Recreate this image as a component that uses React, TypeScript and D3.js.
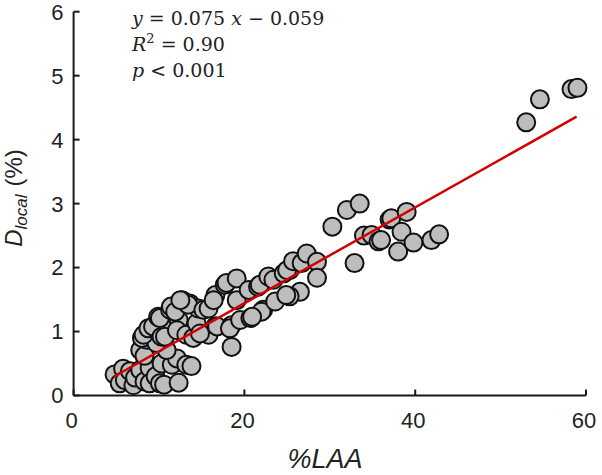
import React from "react";
import * as d3 from "d3";

const laa: number[] = [
  4.8, 5.4, 5.8, 6.0, 6.6, 7.0, 7.2, 7.8, 8.3, 8.9, 8.9, 9.6, 10.1, 10.3, 10.6, 11.5, 12.1, 12.3, 13.2, 13.8, 10.9, 7.8, 8.3,
  8.6, 8.0, 9.7, 8.2, 8.75, 9.3, 10.3, 11.1, 9.9, 10.7, 10.1, 11.3, 11.4, 12.3, 12.7, 13.6, 11.9, 12.1, 13.2, 14.0, 14.4, 14.6, 13.4,
  12.5, 15.2, 15.8, 16.6, 16.4, 16.6, 15.8, 14.8, 16.8, 17.7, 17.9, 19.1, 19.1, 18.5, 18.3, 19.5, 20.7, 18.5, 20.5, 21.6, 21.8,
  22.8, 23.4, 22.2, 22.0, 20.9, 23.6, 24.6, 25.3, 25.0, 25.7, 26.7, 27.3, 28.5, 28.5, 26.5, 25.3, 24.9,
  30.3, 32.0, 33.5, 32.9, 34.0, 34.9, 35.7, 36.0, 37.0, 37.2, 38.4, 39.0, 38.0, 39.8, 41.9, 42.8, 53.0, 54.6, 58.3, 59.0,
];
const dlocal: number[] = [
  0.33, 0.19, 0.42, 0.24, 0.38, 0.16, 0.28, 0.40, 0.22, 0.43, 0.19, 0.30, 0.19, 0.50, 0.17, 0.48, 0.58, 0.20, 0.48, 0.46, 0.71, 0.71, 0.62,
  0.87, 0.90, 0.82, 0.95, 1.05, 1.08, 0.92, 1.08, 1.23, 0.92, 1.21, 1.34, 1.39, 1.18, 1.49, 1.44, 1.31, 1.02, 0.95, 0.90, 1.13, 1.36, 1.42,
  1.49, 1.34, 1.36, 1.57, 1.49, 1.08, 0.95, 0.97, 1.08, 1.73, 1.76, 1.83, 1.49, 1.10, 1.05, 1.18, 1.21, 0.76, 1.65, 1.70, 1.73,
  1.86, 1.81, 1.34, 1.31, 1.23, 1.47, 1.91, 1.96, 1.96, 2.10, 2.07, 2.22, 2.09, 1.84, 1.62, 1.55, 1.57,
  2.64, 2.90, 3.00, 2.07, 2.50, 2.51, 2.41, 2.43, 2.75, 2.77, 2.56, 2.87, 2.25, 2.39, 2.43, 2.52, 4.27, 4.63, 4.79, 4.81,
];
const xTicks: number[] = [0, 20, 40, 60];
const yTicks: number[] = [0, 1, 2, 3, 4, 5, 6];
const slope = 0.075;
const intercept = -0.059;
const fitRange: number[] = [4.7, 58.9];

export default function App() {
  const W = 602;
  const H = 475;
  const x = d3.scaleLinear().domain([0, 60]).range([73.6, 586]);
  const y = d3.scaleLinear().domain([0, 6]).range([395.5, 11.7]);
  const points = laa.map((v, i) => ({ x: v, y: dlocal[i] }));
  const fit = fitRange.map((v) => ({ x: v, y: slope * v + intercept }));
  const line = d3
    .line<{ x: number; y: number }>()
    .x((d) => x(d.x))
    .y((d) => y(d.y));
  const axisColor = "#1a1a1a";
  const sans = "'Liberation Sans', Arial, sans-serif";
  const serif = "'DejaVu Serif', serif";
  return (
    <svg
      width={W}
      height={H}
      viewBox={`0 0 ${W} ${H}`}
      style={{ position: "absolute", left: 0, top: 0, background: "#fff" }}
    >
      {points.map((p, i) => (
        <circle
          key={i}
          cx={x(p.x)}
          cy={y(p.y)}
          r={9}
          fill="#bdbdbd"
          stroke="#111"
          strokeWidth={2}
        />
      ))}
      <path d={line(fit) || ""} fill="none" stroke="#d40000" strokeWidth={2.5} />
      <line x1={x(0)} x2={x(0)} y1={y(0)} y2={y(6)} stroke={axisColor} strokeWidth={2} />
      <line x1={x(0)} x2={x(60)} y1={y(0)} y2={y(0)} stroke={axisColor} strokeWidth={2} />
      {yTicks.map((t) => (
        <g key={"y" + t}>
          <line x1={x(0)} x2={x(0) + 6} y1={y(t)} y2={y(t)} stroke={axisColor} strokeWidth={2} />
          <text
            x={x(0) - 10}
            y={y(t)}
            dy="0.36em"
            textAnchor="end"
            fontFamily={sans}
            fontSize={22}
            fill="#222"
          >
            {t}
          </text>
        </g>
      ))}
      {xTicks.map((t) => (
        <g key={"x" + t}>
          <line x1={x(t)} x2={x(t)} y1={y(0)} y2={y(0) - 6} stroke={axisColor} strokeWidth={2} />
          <text
            x={x(t) - 2}
            y={428}
            textAnchor="middle"
            fontFamily={sans}
            fontSize={22}
            fill="#222"
          >
            {t}
          </text>
        </g>
      ))}
      <text
        x={325}
        y={468}
        textAnchor="middle"
        fontFamily={sans}
        fontStyle="italic"
        fontSize={27}
        fill="#222"
      >
        %LAA
      </text>
      <text
        transform="translate(22,198) rotate(-90)"
        textAnchor="middle"
        fontFamily={sans}
        fontSize={24}
        fill="#222"
      >
        <tspan fontStyle="italic">D</tspan>
        <tspan fontStyle="italic" fontSize={17} dy={5}>
          local
        </tspan>
        <tspan dy={-5} dx={8}>
          (%)
        </tspan>
      </text>
      <g fontFamily={serif} fontSize={19} fill="#222">
        <text x={132} y={25}>
          <tspan fontStyle="italic">y</tspan>
          <tspan> = 0.075 </tspan>
          <tspan fontStyle="italic">x</tspan>
          <tspan> − 0.059</tspan>
        </text>
        <text x={132} y={51}>
          <tspan fontStyle="italic">R</tspan>
          <tspan fontSize={13} dy={-8}>
            2
          </tspan>
          <tspan dy={8}> = 0.90</tspan>
        </text>
        <text x={132} y={77}>
          <tspan fontStyle="italic">p</tspan>
          <tspan> &lt; 0.001</tspan>
        </text>
      </g>
    </svg>
  );
}
